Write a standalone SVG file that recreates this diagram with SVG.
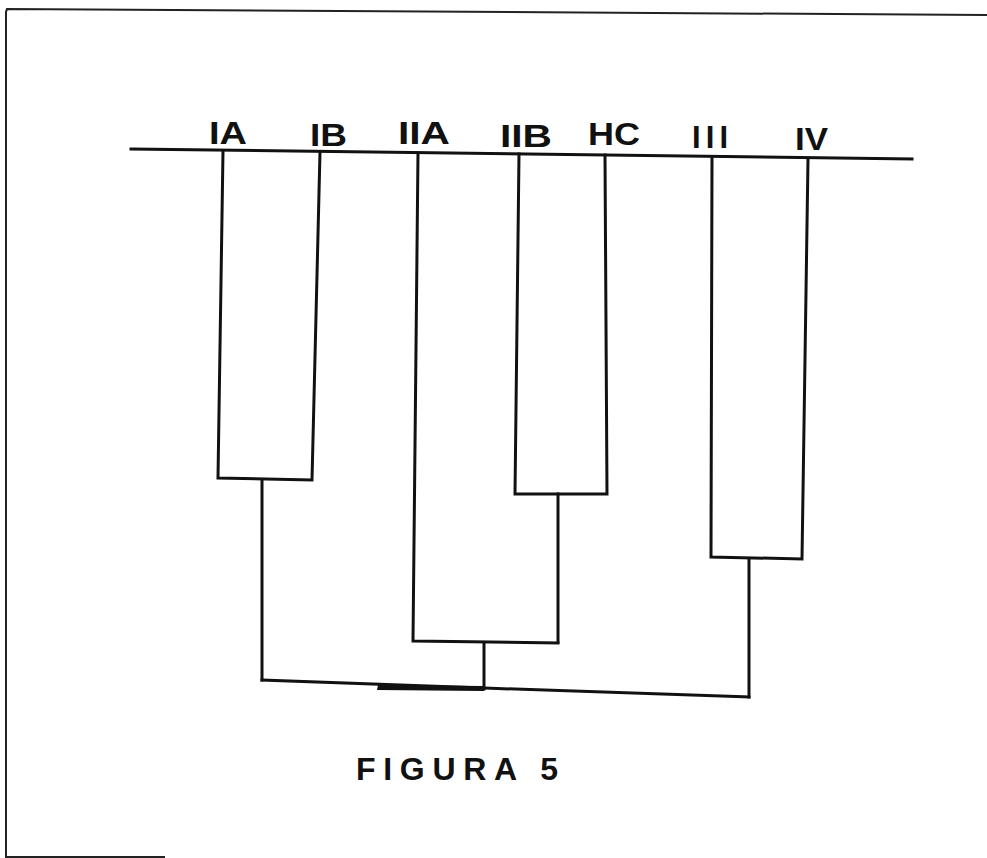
<svg xmlns="http://www.w3.org/2000/svg" width="987" height="858" viewBox="0 0 987 858">
<style>
.ln{fill:none;stroke:#111;stroke-width:3;stroke-linecap:square;stroke-linejoin:miter}
.fr{fill:none;stroke:#222;stroke-width:2}
.lb{font-family:"Liberation Sans",Arial,sans-serif;font-weight:bold;font-size:31px;fill:#111}
.tt{font-family:"Liberation Sans",Arial,sans-serif;font-weight:bold;font-size:32px;fill:#111}
</style>
<rect width="987" height="858" fill="#fff"/>
<g id="frame">
<polyline class="fr" points="987,15 7,9 6,12 6,857 165,857"/>
</g>
<g id="labels">
<text id="IA" class="lb" x="209" y="144" textLength="38" lengthAdjust="spacingAndGlyphs">IA</text>
<text id="IB" class="lb" x="310" y="146" textLength="37" lengthAdjust="spacingAndGlyphs">IB</text>
<text id="IIA" class="lb" x="398" y="144" textLength="52" lengthAdjust="spacingAndGlyphs">IIA</text>
<text id="IIB" class="lb" x="500" y="147" textLength="52" lengthAdjust="spacingAndGlyphs">IIB</text>
<text id="HC" class="lb" x="588" y="145" textLength="52" lengthAdjust="spacingAndGlyphs">HC</text>
<text id="III" class="lb" x="692" y="148" textLength="36" lengthAdjust="spacing">III</text>
<text id="IV" class="lb" x="795" y="150" textLength="33" lengthAdjust="spacingAndGlyphs">IV</text>
<text id="title" class="tt" x="356" y="780" textLength="202" lengthAdjust="spacing">FIGURA 5</text>
</g>
<g id="connectors">
<line class="ln" x1="131" y1="149" x2="912" y2="159"/>
<polyline class="ln" points="223,151 218,478 312,480 320,152"/>
<line class="ln" x1="262" y1="480" x2="262" y2="680"/>
<polyline class="ln" points="519,154 515,494 607,494 605,155"/>
<line class="ln" x1="558" y1="494" x2="558" y2="642"/>
<polyline class="ln" points="418,153 413,641 558,643"/>
<line class="ln" x1="484" y1="643" x2="484" y2="689"/>
<polyline class="ln" points="712,157 711,557 802,559 808,159"/>
<line class="ln" x1="749" y1="559" x2="749" y2="697"/>
<polyline class="ln" points="262,680 484,688 749,697"/>
<polygon points="378,685 484,686 484,691 377,690" fill="#111"/>
</g>
</svg>
